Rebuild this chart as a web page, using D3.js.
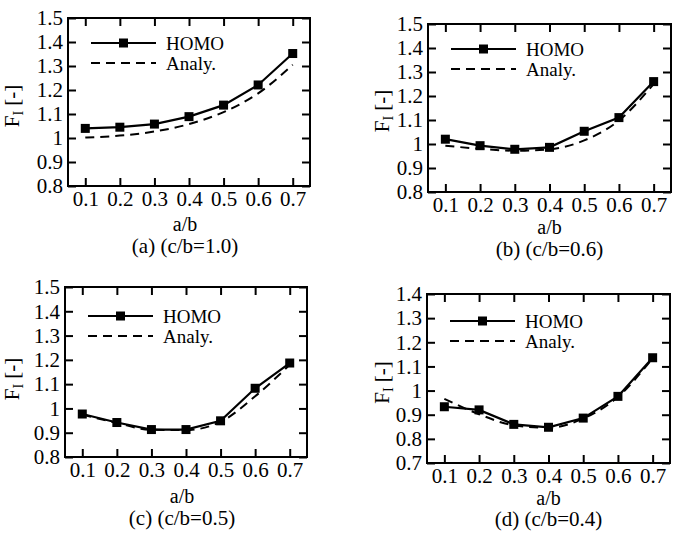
<!DOCTYPE html>
<html>
<head>
<meta charset="utf-8">
<script src="https://cdn.jsdelivr.net/npm/d3@7"></script>
<style>
  body { margin: 0; background: #fff; }
  svg text { font-family: "Liberation Serif", "DejaVu Serif", serif; fill: #000; }
</style>
</head>
<body>
<div class="canvas"></div>
<script>
// data
var abTicks = [0.1, 0.2, 0.3, 0.4, 0.5, 0.6, 0.7];
var fTicksHigh = [0.8, 0.9, 1.0, 1.1, 1.2, 1.3, 1.4, 1.5];
var fTicksLow = [0.7, 0.8, 0.9, 1.0, 1.1, 1.2, 1.3, 1.4];

var homoA  = [1.040, 1.045, 1.058, 1.089, 1.137, 1.221, 1.352];
var analyA = [1.002, 1.010, 1.027, 1.058, 1.108, 1.186, 1.305];

var homoB  = [1.020, 0.993, 0.978, 0.986, 1.053, 1.110, 1.260];
var analyB = [0.993, 0.980, 0.972, 0.978, 1.015, 1.098, 1.250];

var homoC  = [0.977, 0.942, 0.913, 0.913, 0.949, 1.083, 1.187];
var analyC = [0.975, 0.940, 0.912, 0.911, 0.945, 1.050, 1.180];

var homoD  = [0.933, 0.920, 0.860, 0.848, 0.886, 0.976, 1.136];
var analyD = [0.966, 0.902, 0.856, 0.846, 0.884, 0.974, 1.134];

var captions = ['(a) (c/b=1.0)', '(b) (c/b=0.6)', '(c) (c/b=0.5)', '(d) (c/b=0.4)'];
var seriesNames = ['HOMO', 'Analy.'];

// layout (pixels)
var panels = [
  { left: 68,  right: 310, top: 18,  bottom: 186, yTicks: fTicksHigh, homo: homoA, analy: analyA, cap: captions[0], labX: 19,  labDy: 4, abDy: 45, capDy: 67, abDx: -4, legY: 25 },
  { left: 428, right: 671, top: 24,  bottom: 192, yTicks: fTicksHigh, homo: homoB, analy: analyB, cap: captions[1], labX: 389, labDy: 3, abDy: 42, capDy: 64, abDx: 0,  legY: 25 },
  { left: 65,  right: 307, top: 287, bottom: 457, yTicks: fTicksHigh, homo: homoC, analy: analyC, cap: captions[2], labX: 19,  labDy: 7, abDy: 46, capDy: 68, abDx: -4, legY: 29 },
  { left: 427, right: 670, top: 294, bottom: 463, yTicks: fTicksLow,  homo: homoD, analy: analyD, cap: captions[3], labX: 389, labDy: 4, abDy: 42, capDy: 63, abDx: 0,  legY: 27 }
];

var width = 683, height = 533;

var svg = d3.select('.canvas')
  .append('svg')
    .attr('width', width)
    .attr('height', height);

var tickLen = 8;

panels.forEach(function(p) {
  var yDom = [p.yTicks[0] , p.yTicks[p.yTicks.length - 1]];
  var x = d3.scaleLinear().domain([0.05, 0.75]).range([p.left, p.right]);
  var y = d3.scaleLinear().domain(yDom).range([p.bottom, p.top]);

  var g = svg.append('g');
  var fmtY = function(d) { return Math.abs(d - 1) < 1e-9 ? '1' : d3.format('.1f')(d); };

  // bottom axis with labels
  var bx = g.append('g')
    .attr('transform', 'translate(0,' + p.bottom + ')')
    .call(d3.axisBottom(x).tickValues(abTicks).tickSizeInner(-tickLen).tickSizeOuter(0).tickPadding(5).tickFormat(d3.format('.1f')));
  // top axis, ticks only
  var tx = g.append('g')
    .attr('transform', 'translate(0,' + p.top + ')')
    .call(d3.axisTop(x).tickValues(abTicks).tickSizeInner(-tickLen).tickSizeOuter(0).tickFormat(''));
  // left axis with labels
  var ly = g.append('g')
    .attr('transform', 'translate(' + p.left + ',0)')
    .call(d3.axisLeft(y).tickValues(p.yTicks).tickSizeInner(-tickLen).tickSizeOuter(0).tickPadding(5).tickFormat(fmtY));
  // right axis, ticks only
  var ry = g.append('g')
    .attr('transform', 'translate(' + p.right + ',0)')
    .call(d3.axisRight(y).tickValues(p.yTicks).tickSizeInner(-tickLen).tickSizeOuter(0).tickFormat(''));

  [bx, tx, ly, ry].forEach(function(a) {
    a.select('.domain').remove();
    a.selectAll('line').attr('stroke', '#000').attr('stroke-width', 2);
    a.selectAll('text').attr('font-size', 21);
  });

  // frame
  g.append('rect')
    .attr('x', p.left).attr('y', p.top)
    .attr('width', p.right - p.left).attr('height', p.bottom - p.top)
    .attr('fill', 'none').attr('stroke', '#000').attr('stroke-width', 2);

  // analytic curve (dashed)
  var analyLine = d3.line()
    .x(function(d, i) { return x(abTicks[i]); })
    .y(function(d) { return y(d); })
    .curve(d3.curveMonotoneX);
  g.append('path')
    .datum(p.analy)
    .attr('d', analyLine)
    .attr('fill', 'none').attr('stroke', '#000').attr('stroke-width', 2)
    .attr('stroke-dasharray', '9,6');

  // HOMO (solid + squares)
  var homoLine = d3.line()
    .x(function(d, i) { return x(abTicks[i]); })
    .y(function(d) { return y(d); });
  g.append('path')
    .datum(p.homo)
    .attr('d', homoLine)
    .attr('fill', 'none').attr('stroke', '#000').attr('stroke-width', 2.2);
  g.selectAll('.mk')
    .data(p.homo)
    .enter()
    .append('rect')
      .attr('class', 'mk')
      .attr('x', function(d, i) { return x(abTicks[i]) - 4.5; })
      .attr('y', function(d) { return y(d) - 4.5; })
      .attr('width', 9).attr('height', 9)
      .attr('fill', '#000');

  // legend
  var lx0 = p.left + 23, lx1 = p.left + 88, ly0 = p.top + p.legY, ly1 = ly0 + 20;
  g.append('line').attr('x1', lx0).attr('x2', lx1).attr('y1', ly0).attr('y2', ly0)
    .attr('stroke', '#000').attr('stroke-width', 2.2);
  g.append('rect').attr('x', (lx0 + lx1) / 2 - 4.5).attr('y', ly0 - 4.5).attr('width', 9).attr('height', 9).attr('fill', '#000');
  g.append('line').attr('x1', lx0).attr('x2', lx1).attr('y1', ly1).attr('y2', ly1)
    .attr('stroke', '#000').attr('stroke-width', 2).attr('stroke-dasharray', '9,6');
  g.append('text').attr('x', p.left + 98).attr('y', ly0 + 7).attr('font-size', 19).text(seriesNames[0]);
  g.append('text').attr('x', p.left + 98).attr('y', ly1 + 7).attr('font-size', 19).text(seriesNames[1]);

  // x title and caption
  var cx = (p.left + p.right) / 2 + p.abDx;
  g.append('text').attr('x', cx).attr('y', p.bottom + p.abDy)
    .attr('text-anchor', 'middle').attr('font-size', 20).text('a/b');
  g.append('text').attr('x', cx).attr('y', p.bottom + p.capDy)
    .attr('text-anchor', 'middle').attr('font-size', 21).text(p.cap);

  // y title, rotated, with subscript
  var cy = (p.top + p.bottom) / 2 + p.labDy;
  var yt = g.append('text')
    .attr('transform', 'translate(' + p.labX + ',' + cy + ') rotate(-90)')
    .attr('text-anchor', 'middle').attr('font-size', 21);
  yt.append('tspan').text('F');
  yt.append('tspan').attr('font-size', 14).attr('dy', 4).text('I');
  yt.append('tspan').attr('dy', -4).text(' [-]');
});
</script>
</body>
</html>
